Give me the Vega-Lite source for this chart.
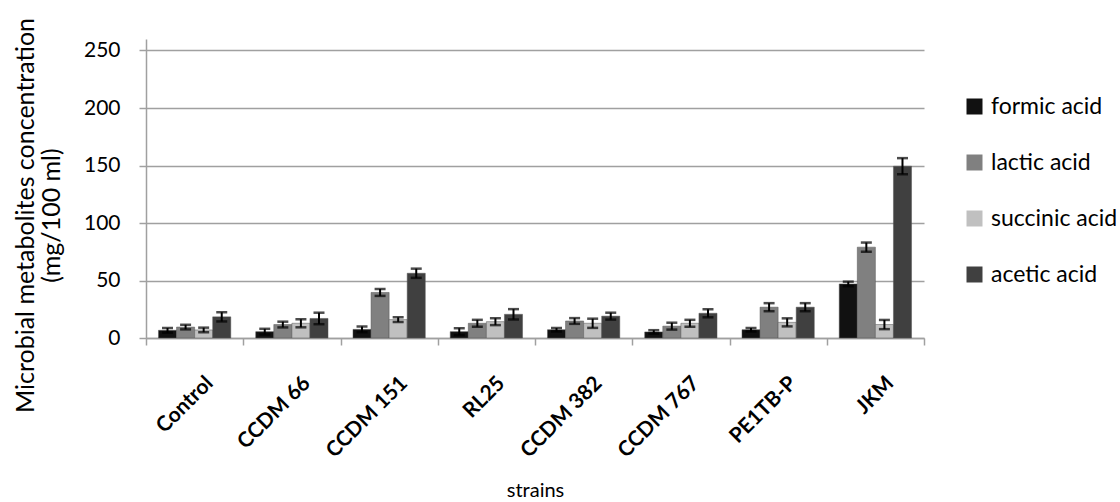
{
  "$schema": "https://vega.github.io/schema/vega-lite/v6.json",
  "width": 778,
  "height": 299,
  "autosize": {"type": "none"},
  "padding": {"left": 146, "top": 39, "right": 196, "bottom": 164},
  "background": "white",
  "config": {
    "font": "Lato",
    "view": {"stroke": null}
  },
  "data": {
    "values": [
      {"strain": "Control", "acid": "formic acid", "value": 6.7, "err": 2},
      {"strain": "Control", "acid": "lactic acid", "value": 9.5, "err": 2},
      {"strain": "Control", "acid": "succinic acid", "value": 7, "err": 2},
      {"strain": "Control", "acid": "acetic acid", "value": 18.4, "err": 4},
      {"strain": "CCDM 66", "acid": "formic acid", "value": 5.5, "err": 2.5},
      {"strain": "CCDM 66", "acid": "lactic acid", "value": 11.7, "err": 2.5},
      {"strain": "CCDM 66", "acid": "succinic acid", "value": 12.8, "err": 3.5},
      {"strain": "CCDM 66", "acid": "acetic acid", "value": 17, "err": 5},
      {"strain": "CCDM 151", "acid": "formic acid", "value": 7.5, "err": 2.5},
      {"strain": "CCDM 151", "acid": "lactic acid", "value": 39.6, "err": 3},
      {"strain": "CCDM 151", "acid": "succinic acid", "value": 16, "err": 2},
      {"strain": "CCDM 151", "acid": "acetic acid", "value": 56.3, "err": 4},
      {"strain": "RL25", "acid": "formic acid", "value": 5.5, "err": 3},
      {"strain": "RL25", "acid": "lactic acid", "value": 12.8, "err": 3},
      {"strain": "RL25", "acid": "succinic acid", "value": 14.2, "err": 3},
      {"strain": "RL25", "acid": "acetic acid", "value": 20.6, "err": 4.5},
      {"strain": "CCDM 382", "acid": "formic acid", "value": 7.2, "err": 1.5},
      {"strain": "CCDM 382", "acid": "lactic acid", "value": 14.8, "err": 2.5},
      {"strain": "CCDM 382", "acid": "succinic acid", "value": 12.8, "err": 4},
      {"strain": "CCDM 382", "acid": "acetic acid", "value": 19, "err": 3},
      {"strain": "CCDM 767", "acid": "formic acid", "value": 5.3, "err": 1.5},
      {"strain": "CCDM 767", "acid": "lactic acid", "value": 10.3, "err": 3},
      {"strain": "CCDM 767", "acid": "succinic acid", "value": 12.8, "err": 3},
      {"strain": "CCDM 767", "acid": "acetic acid", "value": 21.5, "err": 3.5},
      {"strain": "PE1TB-P", "acid": "formic acid", "value": 7.2, "err": 1.5},
      {"strain": "PE1TB-P", "acid": "lactic acid", "value": 26.8, "err": 3.5},
      {"strain": "PE1TB-P", "acid": "succinic acid", "value": 13.6, "err": 3.5},
      {"strain": "PE1TB-P", "acid": "acetic acid", "value": 26.8, "err": 3.5},
      {"strain": "JKM", "acid": "formic acid", "value": 47, "err": 2},
      {"strain": "JKM", "acid": "lactic acid", "value": 79, "err": 4},
      {"strain": "JKM", "acid": "succinic acid", "value": 11.7, "err": 4},
      {"strain": "JKM", "acid": "acetic acid", "value": 149.4, "err": 7}
    ]
  },
  "transform": [
    {"calculate": "datum.value - datum.err", "as": "lo"},
    {"calculate": "datum.value + datum.err", "as": "hi"}
  ],
  "encoding": {
    "x": {
      "field": "strain",
      "type": "nominal",
      "sort": null,
      "scale": {"paddingInner": 0, "paddingOuter": 0},
      "axis": {
        "title": "strains",
        "titleFont": "Lato",
        "titleFontSize": 20,
        "titleFontWeight": "normal",
        "titleColor": "#000000",
        "titlePadding": 19,
        "labelAngle": -45,
        "labelAlign": "right",
        "labelBaseline": "top",
        "labelFontSize": 21,
        "labelFontWeight": "bold",
        "labelColor": "#000000",
        "labelPadding": 27,
        "labelOffset": 7,
        "tickBand": "extent",
        "tickColor": "#a0a0a0",
        "tickSize": 7,
        "tickWidth": 1.5,
        "domainColor": "#a0a0a0",
        "domainWidth": 1.5
      }
    },
    "xOffset": {
      "field": "acid",
      "type": "nominal",
      "sort": ["formic acid", "lactic acid", "succinic acid", "acetic acid"],
      "scale": {"paddingInner": 0, "paddingOuter": 0.69}
    }
  },
  "layer": [
    {
      "mark": {"type": "bar", "stroke": "#555555", "strokeWidth": 0.5},
      "encoding": {
        "y": {
          "field": "value",
          "type": "quantitative",
          "scale": {"domain": [0, 250]},
          "axis": {
            "title": ["Microbial metabolites concentration", "(mg/100 ml)"],
            "titleFont": "Lato",
            "titleFontSize": 25,
            "titleFontWeight": "normal",
            "titleColor": "#000000",
            "titleLineHeight": 26,
            "titleAngle": -90,
            "titleAlign": "center",
            "titleBaseline": "top",
            "titleX": -133,
            "titleY": 176,
            "values": [0, 50, 100, 150, 200, 250],
            "labelFontSize": 21,
            "labelColor": "#000000",
            "labelPadding": 19,
            "tickColor": "#a0a0a0",
            "tickSize": 7,
            "tickWidth": 1.5,
            "domainColor": "#a0a0a0",
            "domainWidth": 1.5,
            "grid": true,
            "gridColor": "#a0a0a0",
            "gridWidth": 1.5
          }
        },
        "color": {
          "field": "acid",
          "type": "nominal",
          "sort": ["formic acid", "lactic acid", "succinic acid", "acetic acid"],
          "scale": {
            "domain": ["formic acid", "lactic acid", "succinic acid", "acetic acid"],
            "range": ["#111111", "#808080", "#c0c0c0", "#404040"]
          },
          "legend": {
            "title": null,
            "orient": "none",
            "legendX": 817,
            "legendY": 56,
            "symbolType": "square",
            "symbolSize": 256,
            "symbolStrokeWidth": 0,
            "labelFontSize": 23,
            "labelColor": "#000000",
            "labelOffset": 5,
            "rowPadding": 32
          }
        }
      }
    },
    {
      "mark": {"type": "rule", "color": "#000000", "strokeWidth": 2},
      "encoding": {
        "y": {"field": "lo", "type": "quantitative"},
        "y2": {"field": "hi"}
      }
    },
    {
      "mark": {"type": "tick", "color": "#000000", "thickness": 2.5, "size": 11},
      "encoding": {"y": {"field": "lo", "type": "quantitative"}}
    },
    {
      "mark": {"type": "tick", "color": "#000000", "thickness": 2.5, "size": 11},
      "encoding": {"y": {"field": "hi", "type": "quantitative"}}
    }
  ]
}
